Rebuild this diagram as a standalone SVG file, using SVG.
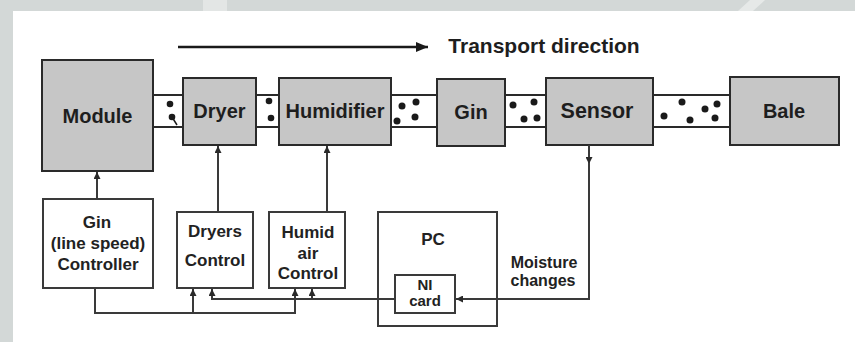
<svg xmlns="http://www.w3.org/2000/svg" width="855" height="342" viewBox="0 0 855 342">
<defs>
<style>
.bg{fill:#d3d8d7}
.box{fill:#c6c6c6;stroke:#2a2a2a;stroke-width:2}
.wbox{fill:#ffffff;stroke:#3a3a3a;stroke-width:2}
.conv{stroke:#2a2a2a;stroke-width:2;fill:none}
.dot{fill:#1a1a1a}
.ln{stroke:#3a3a3a;stroke-width:2;fill:none}
.t20{font-family:"Liberation Sans",Arial,sans-serif;font-weight:bold;font-size:20px;fill:#1e1e1e;text-anchor:middle}
.t17{font-family:"Liberation Sans",Arial,sans-serif;font-weight:bold;font-size:17px;fill:#222;text-anchor:middle}
.t16{font-family:"Liberation Sans",Arial,sans-serif;font-weight:bold;font-size:16px;fill:#222;text-anchor:middle}
.t15{font-family:"Liberation Sans",Arial,sans-serif;font-weight:bold;font-size:15px;fill:#222;text-anchor:middle}
</style>
<marker id="ah" viewBox="0 0 10 10" refX="10" refY="5" markerWidth="7" markerHeight="7" markerUnits="userSpaceOnUse" orient="auto">
<path d="M0,0 L10,5 L0,10 Z" fill="#2a2a2a"/>
</marker>
<marker id="big" viewBox="0 0 10 10" refX="10" refY="5" markerWidth="12" markerHeight="10" markerUnits="userSpaceOnUse" orient="auto" preserveAspectRatio="none">
<path d="M0,0 L10,5 L0,10 Z" fill="#1a1a1a"/>
</marker>
</defs>

<g id="background">
<rect x="0" y="0" width="855" height="342" fill="#ffffff"/>
<rect class="bg" x="0" y="0" width="855" height="11"/>
<rect class="bg" x="0" y="0" width="13" height="342"/>
<rect x="203" y="0" width="24" height="11" fill="#e3e6e5"/>
<polygon points="738,11 750,0 765,0 753,11" fill="#e6e9e8"/>
</g>

<g id="transport">
<line x1="178" y1="47" x2="428" y2="47" stroke="#1a1a1a" stroke-width="2.5" marker-end="url(#big)"/>
<text class="t20" x="544" y="53" style="font-size:21px">Transport direction</text>
</g>

<g id="conveyors">
<path class="conv" d="M153,95 H183 M153,127 H183 M256,95 H279 M256,127 H279 M391,95 H437 M391,127 H437 M505,95 H546 M505,127 H546 M653,95 H730 M653,127 H730"/>
<circle class="dot" cx="170" cy="104" r="3.3"/>
<circle class="dot" cx="172" cy="117" r="3.3"/>
<line x1="172" y1="117" x2="177" y2="125" stroke="#1a1a1a" stroke-width="1.5"/>
<circle class="dot" cx="269" cy="101" r="3.3"/>
<circle class="dot" cx="271" cy="118" r="3.3"/>
<circle class="dot" cx="402" cy="106" r="3.5"/>
<circle class="dot" cx="416" cy="102" r="3.5"/>
<circle class="dot" cx="397" cy="121" r="3.5"/>
<circle class="dot" cx="415" cy="117" r="3.5"/>
<circle class="dot" cx="513" cy="105" r="3.5"/>
<circle class="dot" cx="534" cy="102" r="3.5"/>
<circle class="dot" cx="524" cy="119" r="3.5"/>
<circle class="dot" cx="537" cy="118" r="3.5"/>
<circle class="dot" cx="664" cy="116" r="3.5"/>
<circle class="dot" cx="682" cy="102" r="3.5"/>
<circle class="dot" cx="690" cy="120" r="3.5"/>
<circle class="dot" cx="705" cy="109" r="3.5"/>
<circle class="dot" cx="717" cy="104" r="3.5"/>
<circle class="dot" cx="715" cy="118" r="3.5"/>
</g>

<g id="module"><rect class="box" x="42" y="60" width="111" height="111"/><text class="t20" x="97.5" y="123">Module</text></g>
<g id="dryer"><rect class="box" x="183" y="78" width="73" height="67"/><text class="t20" x="219.5" y="118">Dryer</text></g>
<g id="humidifier"><rect class="box" x="279" y="78" width="112" height="67"/><text class="t20" x="335" y="118">Humidifier</text></g>
<g id="gin"><rect class="box" x="437" y="79" width="68" height="67"/><text class="t20" x="471" y="119">Gin</text></g>
<g id="sensor"><rect class="box" x="546" y="78" width="107" height="67"/><text class="t20" x="597" y="118" style="font-size:21.5px">Sensor</text></g>
<g id="bale"><rect class="box" x="730" y="77" width="109" height="68"/><text class="t20" x="784" y="118">Bale</text></g>

<g id="gin-controller"><rect class="wbox" x="43" y="199" width="110" height="89"/>
<text class="t17" x="97" y="228">Gin</text>
<text class="t17" x="98" y="249">(line speed)</text>
<text class="t17" x="98" y="270">Controller</text></g>

<g id="dryers-control"><rect class="wbox" x="177" y="212" width="76" height="76"/>
<text class="t17" x="215" y="237">Dryers</text>
<text class="t17" x="215" y="266">Control</text></g>

<g id="humid-air-control"><rect class="wbox" x="269" y="212" width="76" height="76"/>
<text class="t17" x="308" y="238">Humid</text>
<text class="t17" x="308" y="259">air</text>
<text class="t17" x="308" y="279">Control</text></g>

<g id="pc"><rect class="wbox" x="378" y="212" width="119" height="114"/>
<text class="t17" x="433" y="245">PC</text></g>

<g id="ni-card"><rect class="wbox" x="395" y="275" width="60" height="38"/>
<text class="t15" x="425" y="290">NI</text>
<text class="t15" x="425" y="306">card</text></g>

<g id="moisture-label"><text class="t16" x="544" y="268">Moisture</text>
<text class="t16" x="543" y="286">changes</text></g>

<g id="connectors">
<line class="ln" x1="97" y1="199" x2="97" y2="172" marker-end="url(#ah)"/>
<line class="ln" x1="218" y1="212" x2="218" y2="146" marker-end="url(#ah)"/>
<line class="ln" x1="327" y1="212" x2="327" y2="146" marker-end="url(#ah)"/>
<line class="ln" x1="589" y1="145" x2="589" y2="164" marker-end="url(#ah)"/>
<path class="ln" d="M589,163 V299 H456" marker-end="url(#ah)"/>
<path class="ln" d="M95,288 V313 H295 V289" marker-end="url(#ah)"/>
<line class="ln" x1="193" y1="313" x2="193" y2="289" marker-end="url(#ah)"/>
<path class="ln" d="M395,299 H212 V289" marker-end="url(#ah)"/>
<line class="ln" x1="312" y1="299" x2="312" y2="289" marker-end="url(#ah)"/>
</g>
</svg>
